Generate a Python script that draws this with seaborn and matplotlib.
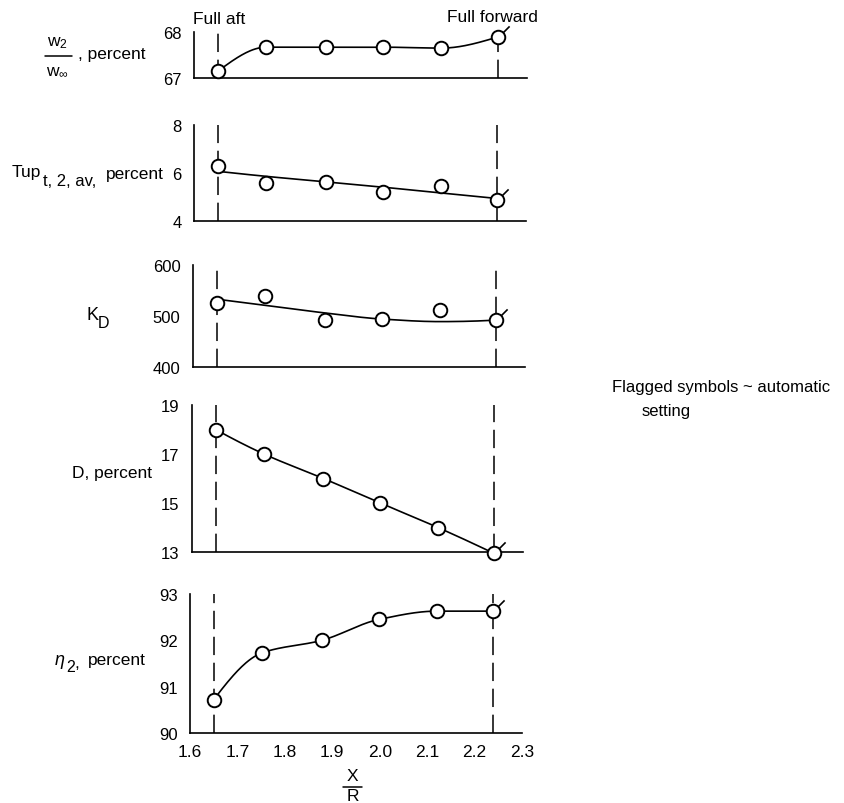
import numpy as np
import pandas as pd
import matplotlib
matplotlib.use('Agg')
import matplotlib.pyplot as plt
from matplotlib.lines import Line2D
import seaborn as sns
import warnings
warnings.filterwarnings('ignore')

# ── style ───────────────────────────────────────────────────
sns.set_theme(style="white")
plt.rcParams['font.family'] = ['Liberation Sans', 'DejaVu Sans']
plt.rcParams['mathtext.fontset'] = 'custom'
plt.rcParams['mathtext.rm'] = 'Liberation Sans'
plt.rcParams['mathtext.it'] = 'Liberation Sans:italic'
plt.rcParams['mathtext.bf'] = 'Liberation Sans:bold'
for k in ['text.color', 'axes.labelcolor', 'xtick.color', 'ytick.color']:
    plt.rcParams[k] = 'black'

# ── data ────────────────────────────────────────────────────
x_r       = [1.65, 1.752, 1.878, 1.998, 2.12, 2.238]
w2_pct    = [67.15, 67.67, 67.67, 67.67, 67.65, 67.89]
tup_pct   = [6.29, 5.57, 5.61, 5.21, 5.47, 4.87]
tup_fair  = [6.07, 5.86, 5.63, 5.41, 5.17, 4.94]
kd        = [526, 539, 492, 494, 512, 492]
kd_fair   = [533, 521, 506, 494, 489, 492]
d_pct     = [18.0, 17.0, 16.0, 15.0, 14.0, 12.95]
eta_pct   = [90.72, 91.73, 92.0, 92.45, 92.63, 92.63]

x_ticks   = [1.6, 1.7, 1.8, 1.9, 2.0, 2.1, 2.2, 2.3]
x_labels  = ['1.6', '1.7', '1.8', '1.9', '2.0', '2.1', '2.2', '2.3']
full_aft, full_fwd = 1.65, 2.238


def smooth(x, y, n=200):
    """monotone cubic (pchip) curve through the points, for drawing only"""
    x = np.asarray(x, float); y = np.asarray(y, float)
    h = np.diff(x); d = np.diff(y) / h
    m = np.zeros_like(y)
    for k in range(1, len(x) - 1):
        if d[k-1] * d[k] > 0:
            w1 = 2 * h[k] + h[k-1]; w2 = h[k] + 2 * h[k-1]
            m[k] = (w1 + w2) / (w1 / d[k-1] + w2 / d[k])
    def end(h0, h1, d0, d1):
        s = ((2 * h0 + h1) * d0 - h0 * d1) / (h0 + h1)
        if np.sign(s) != np.sign(d0):
            return 0.0
        if np.sign(d0) != np.sign(d1) and abs(s) > 3 * abs(d0):
            return 3 * d0
        return s
    m[0] = end(h[0], h[1], d[0], d[1])
    m[-1] = end(h[-1], h[-2], d[-1], d[-2])
    xs = np.linspace(x[0], x[-1], n)
    idx = np.clip(np.searchsorted(x, xs) - 1, 0, len(h) - 1)
    t = (xs - x[idx]) / h[idx]
    h00 = 2*t**3 - 3*t**2 + 1; h10 = t**3 - 2*t**2 + t
    h01 = -2*t**3 + 3*t**2;    h11 = t**3 - t**2
    ys = h00*y[idx] + h10*h[idx]*m[idx] + h01*y[idx+1] + h11*h[idx]*m[idx+1]
    return xs, ys


W, H = 844, 804
fig = plt.figure(figsize=(W / 100, H / 100), dpi=100)

def ftext(x, y, s, size=12.5, ha='left', **kw):
    fig.text(x / W, 1 - y / H, s, color='black', fontsize=size, ha=ha,
             va='center', **kw)

def fline(x0, x1, y):
    fig.add_artist(Line2D([x0 / W, x1 / W], [1 - y / H, 1 - y / H],
                          transform=fig.transFigure, color='black', lw=1.1))

# panel boxes in pixels: left, right, top, bottom
panels = [
    dict(box=(194, 527, 33, 79),   y=w2_pct,  fair=w2_pct,   lim=(67, 68),    yt=[67, 68]),
    dict(box=(194, 526, 126, 222), y=tup_pct, fair=tup_fair, lim=(4, 8),      yt=[4, 6, 8]),
    dict(box=(193, 525, 266, 368), y=kd,      fair=kd_fair,  lim=(400, 600),  yt=[400, 500, 600]),
    dict(box=(192, 523, 406, 553), y=d_pct,   fair=d_pct,    lim=(13, 19),    yt=[13, 15, 17, 19]),
    dict(box=(190, 522, 595, 734), y=eta_pct, fair=eta_pct,  lim=(90, 93),    yt=[90, 91, 92, 93]),
]

for i, p in enumerate(panels):
    l, r, t, b = p['box']
    ax = fig.add_axes([l / W, 1 - b / H, (r - l) / W, (b - t) / H])
    ax.set_facecolor('none')
    ax.set_xlim(1.6, 2.3)
    ax.set_ylim(*p['lim'])
    ax.set_xticks(x_ticks)
    ax.set_yticks(p['yt'])
    ax.set_yticklabels([str(v) for v in p['yt']])
    if i == len(panels) - 1:
        ax.set_xticklabels(x_labels)
    else:
        ax.set_xticklabels([])
    for s in ['top', 'right']:
        ax.spines[s].set_visible(False)
    for s in ['left', 'bottom']:
        ax.spines[s].set_color('black')
        ax.spines[s].set_linewidth(1.2)
    ax.tick_params(axis='both', direction='in', length=12, width=1.2, color='black')
    ax.tick_params(axis='y', labelsize=12, pad=9)
    ax.tick_params(axis='x', labelsize=12.5, pad=8)
    ax.grid(False)

    # full aft / full forward positions
    for xv in (full_aft, full_fwd):
        ax.axvline(xv, color='black', lw=1.1, ls=(0, (12, 5)), zorder=1)

    # faired curve
    cx, cy = smooth(x_r, p['fair'])
    curve = pd.DataFrame({'x': cx, 'y': cy})
    sns.lineplot(data=curve, x='x', y='y', ax=ax, color='black', lw=1.2,
                 sort=False, estimator=None, zorder=2)

    # flag on the automatic-setting point
    ax.plot(x_r[-1], p['y'][-1], linestyle='none', marker=[(0, 0), (1, 1)],
            ms=16, mew=1.2, color='black', zorder=3, clip_on=False)

    pts = pd.DataFrame({'x': x_r, 'y': p['y']})
    sns.scatterplot(data=pts, x='x', y='y', ax=ax, s=95, facecolor='white',
                    edgecolor='black', linewidth=1.4, zorder=4, clip_on=False)
    ax.set_xlabel('')
    ax.set_ylabel('')

# ── labels ──────────────────────────────────────────────────
# w2 / w_inf
ftext(57, 43, r'w$_\mathregular{2}$', ha='center')
fline(45, 72, 57)
ftext(57, 72, r'w$_\infty$', ha='center')
ftext(78, 55, ', percent')

# Tup t,2,av
ftext(12, 173, 'Tup')
ftext(43, 181, 't, 2, av,', size=12)
ftext(106, 175, 'percent')

# K_D
ftext(87, 315, 'K', size=13)
ftext(98, 323, 'D', size=11.5)

ftext(152, 474, 'D, percent', ha='right')

# eta_2
ftext(55, 661, 'η', size=13, style='italic')
ftext(66, 668, '2', size=11.5)
ftext(74, 664, ',')
ftext(88, 661, 'percent')

ftext(219, 19, 'Full aft', ha='center')
ftext(492, 18, 'Full forward', ha='center')

ftext(352, 777, 'X', ha='center')
fline(343, 362, 788)
ftext(353, 797, 'R', ha='center')

ftext(612, 388, 'Flagged symbols ~ automatic', size=12)
ftext(642, 412, 'setting', size=12)

plt.savefig('out.png', dpi=100)
